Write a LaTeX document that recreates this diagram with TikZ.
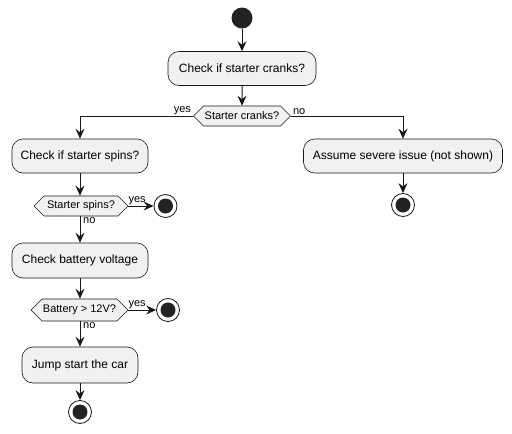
\documentclass[tikz,border=0pt]{standalone}
\usepackage{fontspec}
\setmainfont{Liberation Sans}
\usetikzlibrary{arrows.meta,shapes.symbols}
\definecolor{ln}{HTML}{181818}
\definecolor{bx}{HTML}{F1F1F1}
\definecolor{dot}{HTML}{222222}
\tikzset{
  actbox/.style={draw=ln,fill=bx,rounded corners=11pt,line width=0.6pt,minimum height=34pt,inner sep=0pt,font=\fontsize{12}{14}\selectfont},
  hexa/.style={draw=ln,fill=bx,shape=signal,signal to=west and east,signal pointer angle=90,line width=0.6pt,minimum height=20pt,inner sep=0pt,font=\fontsize{11}{13}\selectfont},
  startdot/.style={circle,fill=dot,minimum size=21pt,inner sep=0pt},
  enddot/.style={circle,draw=ln,fill=white,line width=0.8pt,minimum size=23pt,inner sep=0pt,
    path picture={\fill[dot] (path picture bounding box.center) circle[radius=7.5pt];}},
  arr/.style={draw=ln,line width=1pt,-{Stealth[length=10pt,width=9pt,inset=3.5pt]}},
  lbl/.style={font=\fontsize{11}{13}\selectfont,inner sep=1pt}
}
\begin{document}
\begin{tikzpicture}[x=1pt,y=-1pt]
\useasboundingbox (0,0) rectangle (512,434);
\node[startdot] (s) at (242,18) {};
\node[actbox,minimum width=148pt] (b1) at (242,68.5) {Check if starter cranks?};
\node[hexa,minimum width=97pt] (h1) at (242,116) {Starter cranks?};
\node[actbox,minimum width=136pt] (b2) at (80,156) {Check if starter spins?};
\node[actbox,minimum width=199pt] (b5) at (403,156) {Assume severe issue (not shown)};
\node[enddot] (e1) at (403,205) {};
\node[hexa,minimum width=94pt] (h2) at (81,206) {Starter spins?};
\node[enddot] (e2) at (165.5,206) {};
\node[actbox,minimum width=136pt,minimum height=35pt] (b3) at (80,260.5) {Check battery voltage};
\node[hexa,minimum width=97pt,minimum height=22pt] (h3) at (79.5,310) {Battery > 12V?};
\node[enddot] (e3) at (168,310) {};
\node[actbox,minimum width=116pt,minimum height=36pt] (b4) at (80,365) {Jump start the car};
\node[enddot] (e4) at (80,412) {};

\draw[arr] (s) -- (b1);
\draw[arr] (b1) -- (h1);
\draw[arr] (h1.west) -| (b2.north);
\draw[arr] (h1.east) -| (b5.north);
\draw[arr] (b5) -- (e1);
\draw[arr] (b2.south) -- (b2.south |- h2.north);
\draw[arr] (h2.east) -- (e2);
\draw[arr] (b2.south |- h2.south) -- (b3.north);
\draw[arr] (b3.south) -- (b3.south |- h3.north);
\draw[arr] (h3.east) -- (e3);
\draw[arr] (b3.south |- h3.south) -- (b4.north);
\draw[arr] (b4) -- (e4);

\node[lbl,anchor=south east] (l1) at ([xshift=-1pt]h1.west) {yes};
\node[lbl,anchor=south west] (l2) at ([xshift=1pt]h1.east) {no};
\node[lbl,anchor=south west] (l3) at ([xshift=-1pt]h2.east) {yes};
\node[lbl,anchor=north west] (l4) at ([xshift=2pt]b2.south |- h2.south) {no};
\node[lbl,anchor=south west] (l5) at ([xshift=-1pt]h3.east) {yes};
\node[lbl,anchor=north west] (l6) at ([xshift=2pt]b3.south |- h3.south) {no};
\end{tikzpicture}
\end{document}
